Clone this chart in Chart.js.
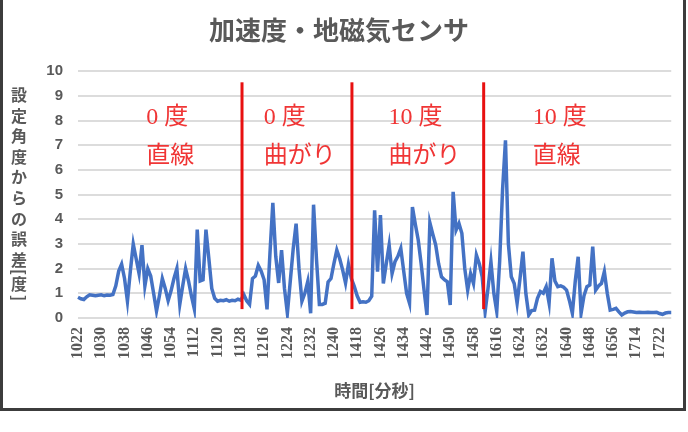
<!DOCTYPE html>
<html>
<head>
<meta charset="utf-8">
<script src="https://cdn.jsdelivr.net/npm/chart.js"></script>
<style>
  body { margin: 0; background: #fff; }
  #wrap { position: relative; width: 688px; height: 432px; }
  #frame { position: absolute; left: 0; top: -10px; width: 680px; height: 415px; border: 3px solid #3c3c3c; pointer-events: none; }
</style>
</head>
<body>
<div id="wrap">
  <canvas id="myChart" width="688" height="432"></canvas>
  <div id="frame"></div>
</div>
<script>
// time runs [mmss of first sample, samples at 1 s]
const segStarts = ['1022', '1109', '1210', '1417', '1612', '1711'];
const segLengths = [37, 21, 37, 45, 49, 16];

// error from the set angle [deg], one per sample
const errors = [
  0.84, 0.78, 0.75, 0.86, 0.94, 0.92, 0.90, 0.92, 0.94, 0.90,
  0.93, 0.92, 0.95, 1.30, 1.90, 2.18, 1.60, 0.68, 1.90, 3.00,
  2.40, 1.80, 2.95, 1.30, 2.00, 1.70, 1.00, 0.28, 0.90, 1.60,
  1.20, 0.70, 1.10, 1.60, 2.00, 0.55, 1.30, 2.00, 1.50, 0.90,
  0.37, 3.58, 1.50, 1.55, 3.58, 2.40, 1.20, 0.80, 0.68, 0.72,
  0.70, 0.74, 0.68, 0.72, 0.70, 0.76, 0.72, 0.95, 0.70, 0.55,
  1.60, 1.70, 2.13, 1.90, 1.55, 0.35, 2.60, 4.67, 2.50, 1.42,
  2.75, 1.20, 0.19, 1.50, 2.80, 3.82, 2.00, 0.68, 1.00, 1.48,
  0.19, 4.59, 2.40, 0.55, 0.55, 0.60, 1.46, 1.60, 2.20, 2.75,
  2.40, 1.95, 1.42, 2.18, 1.60, 1.28, 0.90, 0.64, 0.66, 0.64,
  0.70, 0.88, 4.36, 1.88, 4.17, 1.40, 2.20, 2.96, 1.80, 2.28,
  2.50, 2.82, 1.90, 1.00, 0.60, 4.50, 3.80, 3.16, 2.20, 1.13,
  0.12, 3.86, 3.40, 2.96, 2.20, 1.67, 1.55, 1.47, 0.53, 5.11,
  3.56, 3.83, 3.43, 2.00, 1.13, 1.80, 1.40, 2.55, 2.20, 1.67,
  0.26, 1.20, 2.28, 1.00, 0.26, 2.30, 5.20, 7.20, 3.00, 1.67,
  1.40, 0.60, 1.60, 2.69, 1.00, 0.12, 0.30, 0.32, 0.80, 1.07,
  1.00, 1.27, 0.60, 2.42, 1.50, 1.27, 1.30, 1.25, 1.13, 0.70,
  0.19, 1.50, 2.48, 0.19, 0.90, 1.27, 1.34, 2.89, 1.13, 1.30,
  1.40, 1.88, 1.00, 0.32, 0.35, 0.39, 0.25, 0.12, 0.20, 0.25,
  0.26, 0.24, 0.22, 0.23, 0.22, 0.22, 0.23, 0.22, 0.22, 0.23,
  0.18, 0.15, 0.20, 0.22, 0.22
];

const yTickLabels = ['0', '1', '2', '3', '4', '5', '6', '7', '8', '9', '10'];

// red section markers (category index) and notes
const dividers = [56.4, 94.2, 139.5];
const dividerSpan = [0.36, 9.55];
const sectionNames = [['0 度', '直線'], ['0 度', '曲がり'], ['10 度', '曲がり'], ['10 度', '直線']];
const sectionAt = [23.5, 63.9, 106.8, 156.4];
const sectionRows = [8.1, 6.52];

const yTitle = ['設', '定', '角', '度', 'か', 'ら', 'の', '誤', '差', '[', '度', ']'];

const labels = [];
segStarts.forEach((s, i) => {
  let t = parseInt(s.slice(0, 2)) * 60 + parseInt(s.slice(2));
  for (let k = 0; k < segLengths[i]; k++, t++) {
    labels.push(String(Math.floor(t / 60)) + String(t % 60).padStart(2, '0'));
  }
});

const grey = '#595959';

const overlay = {
  id: 'overlay',
  afterDatasetsDraw(chart) {
    const {ctx, scales: {x, y}} = chart;
    ctx.save();
    ctx.strokeStyle = '#e81010';
    ctx.lineWidth = 3;
    dividers.forEach(v => {
      const px = x.getPixelForValue(v);
      ctx.beginPath();
      ctx.moveTo(px, y.getPixelForValue(dividerSpan[1]));
      ctx.lineTo(px, y.getPixelForValue(dividerSpan[0]));
      ctx.stroke();
    });
    ctx.fillStyle = '#f03535';
    ctx.font = "24px 'Liberation Serif', 'Noto Sans CJK JP'";
    ctx.textAlign = 'left';
    ctx.textBaseline = 'middle';
    sectionNames.forEach((lines, i) => {
      lines.forEach((txt, r) => {
        ctx.fillText(txt, x.getPixelForValue(sectionAt[i]), y.getPixelForValue(sectionRows[r]));
      });
    });
    ctx.restore();
  },
  afterDraw(chart) {
    // stacked y-axis title
    const ctx = chart.ctx;
    const offs = [0, 20.6, 41.2, 61.8, 82.4, 103, 123.6, 144.2, 164.8, 177, 189, 203];
    ctx.save();
    ctx.fillStyle = grey;
    ctx.font = "bold 16px 'Noto Sans CJK JP'";
    ctx.textAlign = 'center';
    ctx.textBaseline = 'middle';
    yTitle.forEach((c, i) => {
      const cy = 95 + offs[i];
      if (c === '[' || c === ']') {
        ctx.save();
        ctx.translate(19, cy);
        ctx.rotate(Math.PI / 2);
        ctx.fillText(c, 0, 0);
        ctx.restore();
      } else {
        ctx.fillText(c, 19, cy);
      }
    });
    ctx.restore();
  }
};

new Chart(document.getElementById('myChart'), {
  type: 'line',
  data: {
    labels: labels,
    datasets: [{
      data: errors,
      borderColor: '#4472c4',
      borderWidth: 3.5,
      pointRadius: 0,
      tension: 0,
      fill: false
    }]
  },
  options: {
    responsive: false,
    animation: false,
    layout: { padding: { left: 0, right: 10, top: 0, bottom: 0 } },
    plugins: {
      legend: { display: false },
      tooltip: { enabled: false },
      title: {
        display: true,
        text: '加速度・地磁気センサ',
        color: grey,
        font: { family: "'Noto Sans CJK JP'", size: 26, weight: 'bold' },
        padding: { top: 15, bottom: 25 }
      }
    },
    scales: {
      x: {
        offset: false,
        grid: { display: false, drawTicks: false },
        border: { display: false },
        ticks: {
          autoSkip: false,
          minRotation: 90,
          maxRotation: 90,
          padding: 9,
          color: grey,
          font: { family: "'Liberation Serif'", size: 16, weight: 'bold' },
          callback: function (v, i) { return i % 8 === 0 ? this.getLabelForValue(v) : null; }
        },
        title: {
          display: true,
          text: '時間[分秒]',
          color: grey,
          font: { family: "'Noto Sans CJK JP'", size: 17, weight: 'bold' },
          padding: { top: 0, bottom: 31 }
        },
        afterFit: s => { s.height = 114; }
      },
      y: {
        min: 0,
        max: 10,
        grid: { color: '#dcdcdc', lineWidth: 2, drawTicks: false },
        border: { display: false },
        ticks: {
          stepSize: 1,
          padding: 15,
          color: grey,
          font: { family: "'Liberation Sans'", size: 15, weight: 'bold' },
          callback: (v, i) => yTickLabels[i]
        },
        afterFit: s => { s.width = 78; }
      }
    }
  },
  plugins: [overlay]
});
</script>
</body>
</html>
